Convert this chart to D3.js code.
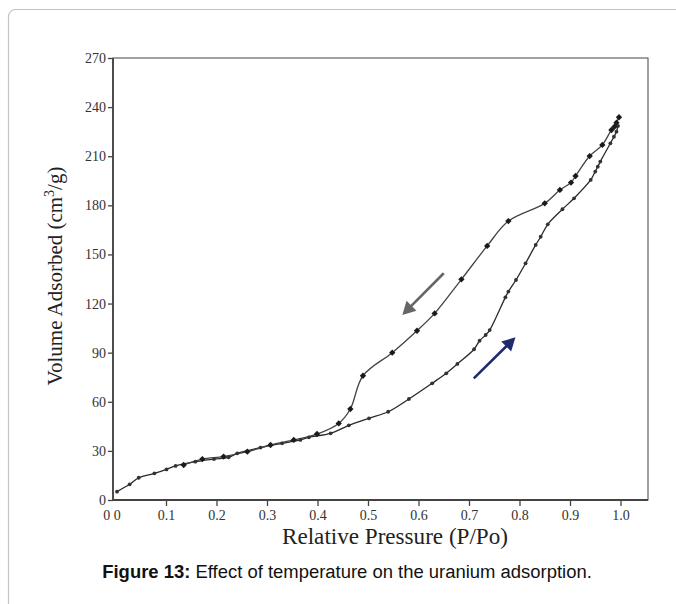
<!DOCTYPE html>
<html><head><meta charset="utf-8">
<script src="https://cdn.jsdelivr.net/npm/d3@7"></script>
<style>body{margin:0;background:#fff}svg{display:block}</style>
</head><body>
<svg id="c" width="676" height="604"></svg>
<script>
// Data (relative pressure P/Po, volume adsorbed cm3/g)
const adsorptionP = [0.003,0.028,0.046,0.077,0.101,0.119,0.158,0.195,0.224,0.241,0.287,0.330,0.366,0.383,0.426,0.462,0.502,0.540,0.581,0.627,0.655,0.677,0.710,0.721,0.733,0.741,0.772,0.778,0.793,0.812,0.832,0.842,0.856,0.885,0.908,0.941,0.950,0.955,0.960,0.980,0.987,0.992,0.995];
const adsorptionV = [5.1,9.6,13.6,16.3,18.7,20.8,23.4,25.0,26.1,28.5,32.0,34.6,36.7,38.3,40.7,45.6,49.9,53.9,61.7,71.3,77.4,83.1,92.1,97.3,100.8,103.8,123.8,127.3,134.4,144.6,155.8,160.8,168.4,177.6,184.3,195.5,200.6,203.6,206.7,217.9,221.9,225.0,228.5];
const desorptionP = [0.997,0.992,0.988,0.982,0.964,0.939,0.911,0.902,0.880,0.850,0.778,0.736,0.685,0.632,0.597,0.548,0.490,0.465,0.442,0.399,0.353,0.307,0.261,0.214,0.172,0.135];
const desorptionV = [233.8,230.5,228.0,226.0,216.9,210.1,197.9,193.9,189.4,181.2,170.4,155.2,134.8,114.0,103.4,90.0,75.9,55.6,46.8,40.3,36.7,33.6,29.5,26.5,25.0,21.4];
const yTicks = [0,30,60,90,120,150,180,210,240,270];
const xTicks = [0,0.1,0.2,0.3,0.4,0.5,0.6,0.7,0.8,0.9,1.0];
const xTickLabels = ["0 0","0.1","0.2","0.3","0.4","0.5","0.6","0.7","0.8","0.9","1.0"];
// arrows in data units: [fromP, fromV, toP, toV]
const desorptionArrow = [0.650,138.5,0.568,113];
const adsorptionArrow = [0.7095,74.3,0.792,99.4];

(function(){
const svg = d3.select("#c");
const serif = "'Liberation Serif','Times New Roman',serif";

// outer frame
svg.append("rect").attr("x",8.5).attr("y",9.5).attr("width",720).attr("height",720)
  .attr("rx",7).attr("fill","none").attr("stroke","#c4c4c4").attr("stroke-width",1.2);

const x = d3.scaleLinear().domain([0,1]).range([115.5,620.5]);
const y = d3.scaleLinear().domain([0,270]).range([500,58]);
const pL = 113, pR = 648, pT = 58, pB = 500;

// plot box
svg.append("rect").attr("x",pL).attr("y",pT).attr("width",pR-pL).attr("height",pB-pT)
  .attr("fill","none").attr("stroke","#555").attr("stroke-width",1.1);
svg.append("line").attr("x1",pL).attr("x2",pL).attr("y1",pT).attr("y2",pB).attr("stroke","#444").attr("stroke-width",1.8);
svg.append("line").attr("x1",pL).attr("x2",pR).attr("y1",pB).attr("y2",pB).attr("stroke","#444").attr("stroke-width",1.8);

const yAxis = svg.append("g").attr("transform",`translate(${pL},0)`)
  .call(d3.axisLeft(y).tickValues(yTicks).tickSize(5).tickSizeOuter(0).tickPadding(2));
yAxis.select(".domain").remove();
yAxis.selectAll("line").attr("stroke","#444").attr("stroke-width",1.3);
yAxis.attr("font-family",null).attr("font-size",null);
yAxis.selectAll("text").style("font-family",serif).style("font-size","14px").attr("fill","#333");

const xAxis = svg.append("g").attr("transform",`translate(0,${pB})`)
  .call(d3.axisBottom(x).tickValues(xTicks).tickSize(6).tickSizeOuter(0).tickPadding(4)
    .tickFormat((d,i)=>xTickLabels[i]));
xAxis.select(".domain").remove();
xAxis.attr("font-family",null).attr("font-size",null);
xAxis.selectAll("line").attr("stroke","#444").attr("stroke-width",1.3);
xAxis.selectAll(".tick").filter(d=>d===0).select("line").remove();
xAxis.selectAll(".tick").filter(d=>d===0).select("text").attr("dx",-4);
xAxis.selectAll("text").style("font-family",serif).style("font-size","14px").attr("fill","#333");

// curves
const ads = adsorptionP.map((p,i)=>[p,adsorptionV[i]]);
const des = desorptionP.map((p,i)=>[p,desorptionV[i]]);
const line = d3.line().x(d=>x(d[0])).y(d=>y(d[1])).curve(d3.curveCatmullRom.alpha(0.5));
svg.append("path").attr("d",line(ads)).attr("fill","none").attr("stroke","#2a2a2a").attr("stroke-width",1.3);
svg.append("path").attr("d",line(des)).attr("fill","none").attr("stroke","#444").attr("stroke-width",1.3);

svg.append("g").selectAll("circle").data(ads).join("circle")
  .attr("cx",d=>x(d[0])).attr("cy",d=>y(d[1])).attr("r",1.9).attr("fill","#333");
const diamond = d3.symbol().type(d3.symbolSquare).size(20);
svg.append("g").selectAll("path").data(des).join("path")
  .attr("transform",d=>`translate(${x(d[0])},${y(d[1])}) rotate(45)`).attr("d",diamond).attr("fill","#1a1a1a");

// arrows
function arrow(a,color,w){
  const x1=x(a[0]),y1=y(a[1]),x2=x(a[2]),y2=y(a[3]);
  const ang=Math.atan2(y2-y1,x2-x1), L=13, W=7;
  const bx=x2-L*Math.cos(ang), by=y2-L*Math.sin(ang);
  svg.append("line").attr("x1",x1).attr("y1",y1).attr("x2",bx+2*Math.cos(ang)).attr("y2",by+2*Math.sin(ang))
    .attr("stroke",color).attr("stroke-width",w);
  const px=-Math.sin(ang)*W, py=Math.cos(ang)*W;
  svg.append("path").attr("d",`M${x2},${y2}L${bx+px},${by+py}L${bx-px},${by-py}Z`).attr("fill",color);
}
arrow(desorptionArrow,"#666",2.6);
arrow(adsorptionArrow,"#1f2b6e",2.6);

// axis titles
function fitText(sel,target){
  const w=sel.node().getComputedTextLength();
  const fs=parseFloat(sel.attr("font-size"));
  sel.attr("font-size",fs*target/w);
}
const xt = svg.append("text").attr("x",395).attr("y",544).attr("text-anchor","middle")
  .attr("font-family",serif).attr("font-size",22).attr("fill","#222").text("Relative Pressure (P/Po)");
fitText(xt,226);

const yt = svg.append("text").attr("transform","translate(62,276) rotate(-90)").attr("text-anchor","middle")
  .attr("font-family",serif).attr("font-size",21).attr("fill","#222");
yt.append("tspan").text("Volume Adsorbed (cm");
yt.append("tspan").attr("font-size",14).attr("dy",-8).text("3");
yt.append("tspan").attr("dy",8).text("/g)");

// caption
const cap = svg.append("text").attr("x",347).attr("y",578).attr("text-anchor","middle")
  .attr("font-family","'Liberation Sans',Arial,sans-serif").attr("font-size",18).attr("fill","#111");
cap.append("tspan").attr("font-weight","bold").text("Figure 13:");
cap.append("tspan").text(" Effect of temperature on the uranium adsorption.");
fitText(cap,490);
})();
</script>
</body></html>
